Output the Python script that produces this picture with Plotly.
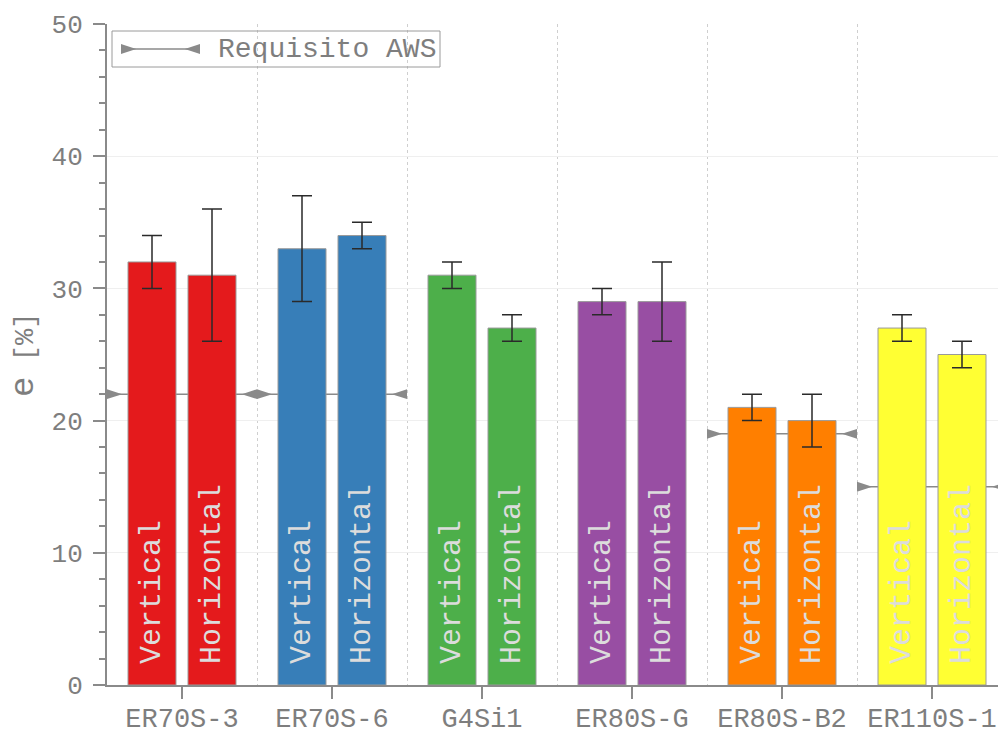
import plotly.graph_objects as go

# ---------------- data ----------------
categories = ["ER70S-3", "ER70S-6", "G4Si1", "ER80S-G", "ER80S-B2", "ER110S-1"]
vertical = [32, 33, 31, 29, 21, 27]
vertical_err = [2, 4, 1, 1, 1, 1]
horizontal = [31, 34, 27, 29, 20, 25]
horizontal_err = [5, 1, 1, 3, 2, 1]
requirement = [22, 22, None, None, 19, 15]
bar_colors = ["#E41A1C", "#377EB8", "#4DAF4A", "#984EA3", "#FF7F00", "#FFFF33"]
series_labels = ["Vertical", "Horizontal"]
legend_label = "Requisito AWS"

# ---------------- style ----------------
MONO = "Liberation Mono"
GRAY = "#8a8a8a"
TXT = "#7e7e7e"
W, H = 998, 736
ML, MR, MT, MB = 107, 0, 24, 51
PX_PER_UNIT = 150.0
X_MAX = -0.5 + (W - ML - MR) / PX_PER_UNIT
ARROW_SIZE = 16
ARROW_LEN_PX = 0.95 * ARROW_SIZE
d = ARROW_LEN_PX / PX_PER_UNIT

fig = go.Figure()

# requirement lines (behind the bars)
lx, ly, mx, my, ang = [], [], [], [], []
for i, r in enumerate(requirement):
    if r is None:
        continue
    lx += [i - 0.5, i + 0.5, None]
    ly += [r, r, None]
    mx += [i - 0.5 + d, i + 0.5 - d]
    my += [r, r]
    ang += [90, -90]

fig.add_trace(go.Scatter(x=lx, y=ly, mode="lines", line=dict(color=GRAY, width=1.5),
                         showlegend=False, hoverinfo="skip", xaxis="x", yaxis="y"))
fig.add_trace(go.Scatter(x=mx, y=my, mode="markers",
                         marker=dict(symbol="arrow", angle=ang, size=ARROW_SIZE, color=GRAY),
                         showlegend=False, hoverinfo="skip", xaxis="x", yaxis="y"))

# bars on overlay axes so they sit above the requirement lines
xs = list(range(len(categories)))
for vals, errs, lab, off in [(vertical, vertical_err, series_labels[0], -0.36),
                             (horizontal, horizontal_err, series_labels[1], 0.04)]:
    fig.add_trace(go.Bar(
        x=xs, y=vals, width=0.32, offset=off,
        marker=dict(color=bar_colors, line=dict(color="#9a9a9a", width=1)),
        error_y=dict(type="data", array=errs, color="#2a2a2a", thickness=1.5, width=10),
        text=["\u00a0" + lab] * len(xs), textposition="inside", insidetextanchor="start",
        textangle=-90, textfont=dict(family=MONO, size=30, color="#dcdcdc"),
        showlegend=False, xaxis="x2", yaxis="y2", name=lab))

# legend (manual)
def px_x(p):
    return (p - ML) / (W - ML - MR)

def px_y(p):
    return (H - MB - p) / (H - MT - MB)

leg_y = px_y(49)
lx0, lx1 = px_x(121), px_x(200)
dd = ARROW_LEN_PX / (W - ML - MR)
fig.add_trace(go.Scatter(x=[lx0, lx1], y=[leg_y, leg_y], mode="lines",
                         line=dict(color=GRAY, width=1.5), showlegend=False,
                         hoverinfo="skip", xaxis="x3", yaxis="y3", cliponaxis=False))
fig.add_trace(go.Scatter(x=[lx0 + dd, lx1 - dd], y=[leg_y, leg_y], mode="markers",
                         marker=dict(symbol="arrow", angle=[90, -90], size=ARROW_SIZE, color=GRAY),
                         showlegend=False, hoverinfo="skip", xaxis="x3", yaxis="y3", cliponaxis=False))
fig.add_shape(type="rect", xref="paper", yref="paper",
              x0=px_x(112), x1=px_x(440), y0=px_y(67), y1=px_y(31),
              line=dict(color="#9a9a9a", width=1), fillcolor="rgba(0,0,0,0)", layer="above")
fig.add_annotation(text=legend_label, xref="paper", yref="paper", x=px_x(216), y=leg_y,
                   xanchor="left", yanchor="middle", showarrow=False,
                   font=dict(family=MONO, size=28, color=TXT))

fig.update_layout(
    width=W, height=H, autosize=False,
    margin=dict(l=ML, r=MR, t=MT, b=MB, pad=0),
    plot_bgcolor="white", paper_bgcolor="white",
    barmode="overlay", showlegend=False,
    xaxis=dict(range=[-0.5, X_MAX], tickmode="array", tickvals=xs, ticktext=categories,
               ticks="outside", ticklen=12, tickwidth=2, tickcolor=GRAY,
               showline=True, linecolor=GRAY, linewidth=2, showgrid=False, zeroline=False,
               tickfont=dict(family=MONO, size=27, color=TXT), ticklabelstandoff=-4,
               automargin=False,
               minor=dict(tickmode="linear", tick0=0.5, dtick=1, showgrid=True,
                          griddash="dot", gridcolor="#cfcfcf", gridwidth=1, ticks=""),
               fixedrange=True),
    yaxis=dict(range=[0, 50], tickmode="linear", tick0=0, dtick=10,
               ticks="outside", ticklen=12, tickwidth=2, tickcolor=GRAY,
               showline=True, linecolor=GRAY, linewidth=2, zeroline=False,
               showgrid=True, gridcolor="#efefef", gridwidth=1, automargin=False,
               minor=dict(tickmode="linear", tick0=0, dtick=2, ticks="outside",
                          ticklen=6, tickwidth=1.5, tickcolor=GRAY, showgrid=False),
               tickfont=dict(family=MONO, size=26, color=TXT), ticklabelstandoff=5,
               title=dict(text="<span style='font-family:Liberation Sans;font-size:34px'>e</span>\u00a0[%]",
                          font=dict(family=MONO, size=27, color=TXT), standoff=10),
               fixedrange=True),
    xaxis2=dict(overlaying="x", range=[-0.5, X_MAX], visible=False, anchor="y2", fixedrange=True),
    yaxis2=dict(overlaying="y", range=[0, 50], visible=False, anchor="x2", fixedrange=True),
    xaxis3=dict(overlaying="x", range=[0, 1], visible=False, anchor="y3", fixedrange=True),
    yaxis3=dict(overlaying="y", range=[0, 1], visible=False, anchor="x3", fixedrange=True),
)

fig.write_html("out.html")
